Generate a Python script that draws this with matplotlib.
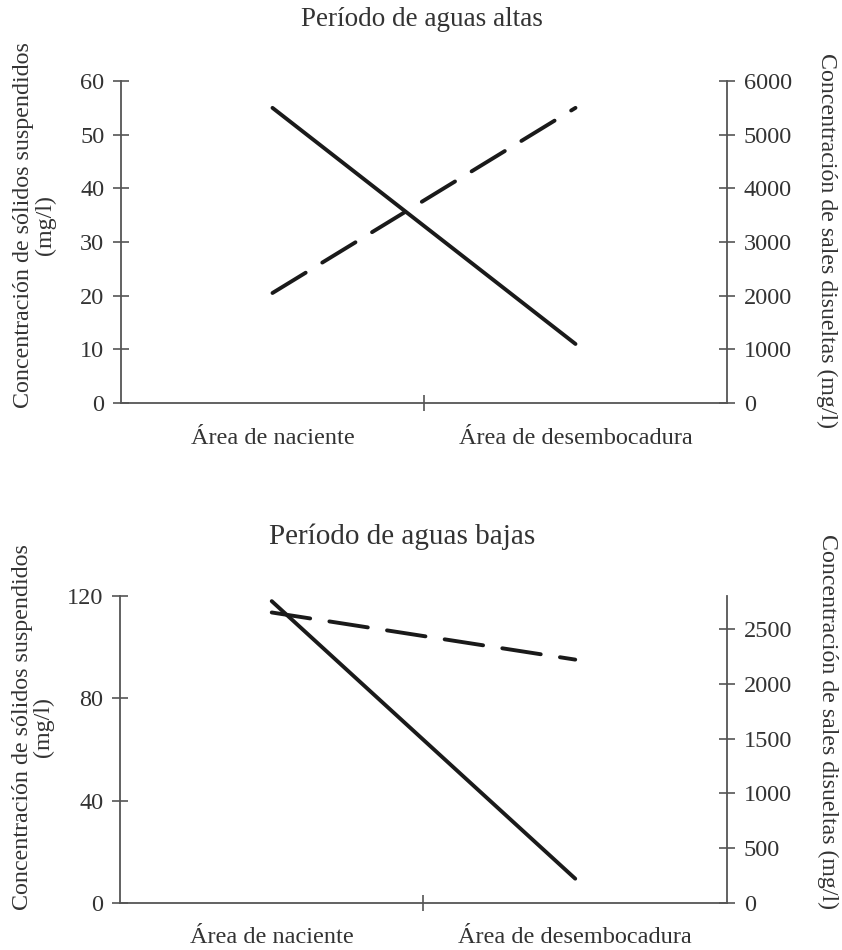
import numpy as np
import matplotlib.pyplot as plt

plt.rcParams['font.family'] = ['Liberation Serif', 'DejaVu Serif']

categorias = ['Área de naciente', 'Área de desembocadura']

# periodo de aguas altas
solidos_altas = [55, 11]
sales_altas = [2050, 5500]

# periodo de aguas bajas
solidos_bajas = [118, 9.5]
sales_bajas = [2650, 2220]

txt = '#333333'
spine_c = '#555555'


def style_axes(ax, ax2, xpad):
    for a in (ax, ax2):
        a.spines['top'].set_visible(False)
        for s in ('left', 'right', 'bottom'):
            a.spines[s].set_color(spine_c)
            a.spines[s].set_linewidth(1.3)
    ax.spines['right'].set_visible(False)
    ax2.spines['left'].set_visible(False)
    ax2.spines['bottom'].set_visible(False)
    ax.tick_params(axis='y', direction='inout', length=12, width=1.2,
                   colors=spine_c, labelcolor=txt, labelsize=17.5, pad=6)
    ax2.tick_params(axis='y', direction='inout', length=12, width=1.2,
                    colors=spine_c, labelcolor=txt, labelsize=17.5, pad=6)
    ax.set_xlim(-0.5, 1.5)
    ax.set_xticks([0, 1])
    ax.set_xticklabels(categorias)
    ax.tick_params(axis='x', which='major', length=0, labelsize=17.5,
                   labelcolor=txt, pad=xpad)
    ax.set_xticks([0.5], minor=True)
    ax.tick_params(axis='x', which='minor', direction='inout', length=12,
                   width=1.2, colors=spine_c)


def draw(rect, solidos, sales, ylim1, yt1, ylim2, yt2, lab_y, rlab_y, xpad):
    ax = fig.add_axes(rect)
    ax2 = ax.twinx()
    x = np.arange(len(categorias))
    ax.plot(x, solidos, color='#1a1a1a', lw=2.8, solid_capstyle='round')
    ax2.plot(x, sales, color='#1a1a1a', lw=2.8, dashes=(10, 5),
             dash_capstyle='round')
    ax.set_ylim(*ylim1)
    ax.set_yticks(yt1)
    ax2.set_ylim(*ylim2)
    ax2.set_yticks(yt2)
    style_axes(ax, ax2, xpad)
    ax.set_ylabel('Concentración de sólidos suspendidos\n(mg/l)',
                  fontsize=17.3, color=txt, linespacing=1.0)
    ax.yaxis.set_label_coords(-0.108, lab_y)
    ax2.set_ylabel('Concentración de sales disueltas (mg/l)', fontsize=17.2,
                   color=txt, rotation=270, va='center')
    ax2.yaxis.set_label_coords(1.165, rlab_y)
    return ax, ax2


fig = plt.figure(figsize=(8.42, 9.5), dpi=100)

draw([0.1437, 0.5758, 0.7197, 0.3389], solidos_altas, sales_altas,
     (0, 60), range(0, 61, 10), (0, 6000), range(0, 6001, 1000),
     0.553, 0.505, 18)
draw([0.1425, 0.0495, 0.7209, 0.3231], solidos_bajas, sales_bajas,
     (0, 120), [0, 40, 80, 120], (0, 2800), range(0, 2501, 500),
     0.573, 0.59, 17)

fig.text(0.501, 1 - 20 / 950, 'Período de aguas altas', fontsize=19.5,
         color=txt, ha='center', va='center')
fig.text(0.478, 1 - 537 / 950, 'Período de aguas bajas', fontsize=21,
         color=txt, ha='center', va='center')

fig.savefig('out.png', dpi=100)
